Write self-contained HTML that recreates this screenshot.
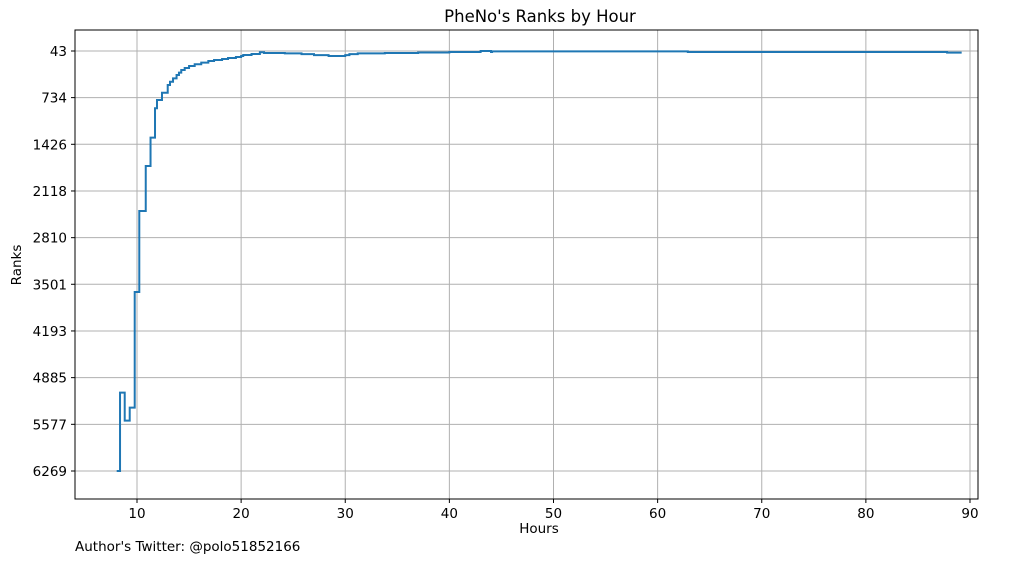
<!DOCTYPE html>
<html><head><meta charset="utf-8"><style>
body{margin:0;background:#fff;}
svg{display:block;font-family:"DejaVu Sans","Liberation Sans",sans-serif;}
</style></head><body>
<svg id="c" width="1014" height="562"></svg>
<script>
const hours=[8.05,8.37,8.82,9.3,9.78,10.22,10.84,11.3,11.73,11.92,12.4,12.95,13.17,13.46,13.8,14.03,14.25,14.58,15.0,15.54,16.17,16.85,17.4,18.17,18.74,19.5,20.0,20.2,21.0,21.8,22.2,24.2,25.8,27.0,28.4,30.0,30.4,31.2,33.8,37.0,40.0,43.0,44.0,44.1,62.9,87.8];
const ranks=[6269,5108,5523,5330,3615,2414,1747,1328,892,769,661,547,498,448,399,364,325,295,265,240,216,191,176,162,147,132,117,102,88,62,73,78,90,104,118,104,90,78,73,65,58,43,58,48,58,68];
const endHour=89.2;
const yTicks=[43,734,1426,2118,2810,3501,4193,4885,5577,6269];
const xTicks=[10,20,30,40,50,60,70,80,90];
const NS="http://www.w3.org/2000/svg";
const svg=document.getElementById('c');
const L=75,R=978,T=30,B=499;
const X=h=>137+(h-10)*(833/80);
const Y=r=>51+(r-43)*(420/6226);
function mk(t,a){const e=document.createElementNS(NS,t);for(const k in a)e.setAttribute(k,a[k]);svg.appendChild(e);return e;}
xTicks.forEach(t=>{
const g=mk('line',{x1:X(t),x2:X(t),y1:T,y2:B,stroke:'#b0b0b0','stroke-width':1});


mk('line',{x1:X(t),x2:X(t),y1:B,y2:B+4,stroke:'#000'});
const tx=mk('text',{x:X(t),y:B+19,'text-anchor':'middle','font-size':13.5});tx.textContent=t;


});
yTicks.forEach(t=>{
const g=mk('line',{x1:L,x2:R,y1:Y(t),y2:Y(t),stroke:'#b0b0b0','stroke-width':1});


mk('line',{x1:L-4,x2:L,y1:Y(t),y2:Y(t),stroke:'#000'});
const tx=mk('text',{x:L-8,y:Y(t)+5,'text-anchor':'end','font-size':13.5});tx.textContent=t;


});
let d='';
for(let i=0;i<hours.length;i++){
const x0=X(hours[i]),x1=X(i+1<hours.length?hours[i+1]:endHour),y=Y(ranks[i]);
d+=(i===0?'M':'L')+x0+','+y+' L'+x1+','+y+' ';
}
const p=mk('path',{d:d,fill:'none',stroke:'#1f77b4','stroke-width':2});


const fr=mk('rect',{x:L,y:T,width:R-L,height:B-T,fill:'none',stroke:'#000','stroke-width':1});


const ti=mk('text',{x:540,y:22,'text-anchor':'middle','font-size':16.5});ti.textContent="PheNo's Ranks by Hour";


const xl=mk('text',{x:539,y:533,'text-anchor':'middle','font-size':13.5});xl.textContent='Hours';


const yl=mk('text',{x:21,y:265,'text-anchor':'middle','font-size':13.5,transform:'rotate(-90 21 265)'});yl.textContent='Ranks';


const au=mk('text',{x:75,y:551,'font-size':13.5});au.textContent="Author's Twitter: @polo51852166";


</script>
</body></html>
